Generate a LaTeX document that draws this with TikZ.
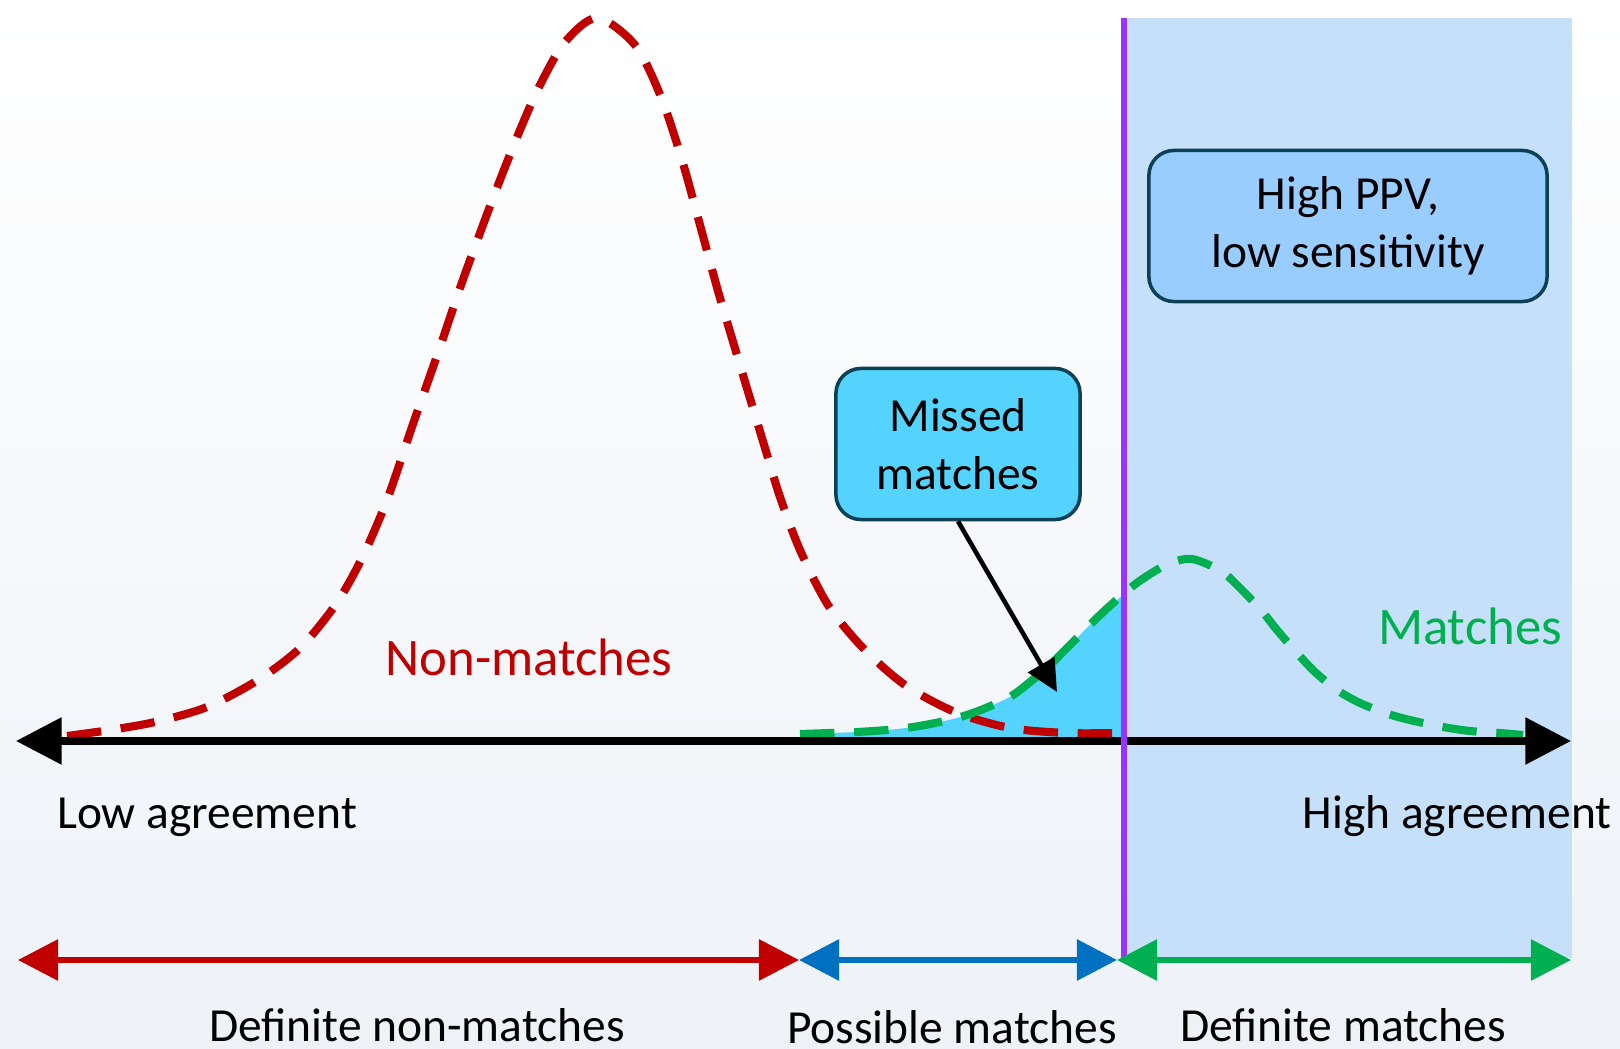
\documentclass[tikz,border=0pt]{standalone}
\usepackage{fontspec}
\setmainfont{Carlito}
\usepackage{tikz}
\usetikzlibrary{arrows.meta,positioning}

\definecolor{nonred}{RGB}{192,0,0}
\definecolor{matchgreen}{RGB}{0,176,80}
\definecolor{possblue}{RGB}{0,112,192}
\definecolor{cutpurple}{RGB}{153,51,255}
\definecolor{regionblue}{RGB}{199,224,249}
\definecolor{missfill}{RGB}{83,211,253}
\definecolor{ppvfill}{RGB}{153,204,255}
\definecolor{boxedge}{RGB}{12,64,84}
\definecolor{bgbot}{RGB}{238,242,247}

\begin{document}
\begin{tikzpicture}[x=0.01cm, y=-0.01cm,
    font=\fontsize{13.5}{16.5}\selectfont,
    dcurve/.style={line width=2.3pt, dash pattern=on 9.8pt off 5.6pt},
    infobox/.style={draw=boxedge, line width=1pt, rounded corners=0.25cm,
        align=center, minimum height=1.51cm, inner sep=0pt},
    txt/.style={anchor=base, inner sep=0pt},
    bigtxt/.style={txt, font=\fontsize{15}{18}\selectfont},
    zonearrow/.style={line width=1.7pt,
        {Triangle[length=11.4pt,width=11.4pt]}-{Triangle[length=11.4pt,width=11.4pt]}}]

\useasboundingbox (0,0) rectangle (1620,1049);

% Background and high-agreement zone
\shade[top color=white, bottom color=bgbot] (0,0) rectangle (1620,1049);
\fill[regionblue] (1124,18) rectangle (1572,958);

% Missed matches area under the matches curve
\fill[missfill] (830,741) -- plot[smooth] coordinates {(830,733) (857,732) (887,730)
    (913,727) (940,722) (967,715) (993,705) (1013,695) (1030,682) (1047,668)
    (1060,655) (1080,635) (1100,615) (1124,594)} -- (1124,741) -- cycle;

% Non-matches curve
\draw[dcurve, nonred] plot[smooth] coordinates {(67,736) (110,730) (155,722) (207,707)
    (258,680) (300,648) (336,604) (362,558) (387,500) (413,424) (439,350) (460,288)
    (480,233) (500,180) (520,130) (540,85) (565,42) (597,18) (635,45) (661,97)
    (682,160) (700,225) (718,291) (734,345) (749,395) (765,448) (780,497) (800,550)
    (828,605) (863,648) (905,685) (955,712) (1010,728) (1067,733) (1116,733)};

% Matches curve
\draw[dcurve, matchgreen] plot[smooth] coordinates {(800,734) (830,733) (857,732)
    (887,730) (913,727) (940,722) (967,715) (993,705) (1013,695) (1030,682)
    (1047,668) (1060,655) (1080,635) (1100,615) (1121,596) (1141,580) (1168,564)
    (1192,559) (1221,571) (1239,587) (1261,610) (1277,630) (1297,653) (1315,672)
    (1337,690) (1360,703) (1388,714) (1414,721) (1443,727) (1470,731) (1500,733)
    (1523,735)};

% Agreement axis
\coordinate (lowend) at (16,741);
\coordinate (highend) at (1571,741);
\draw[line width=2pt, {Triangle[length=13pt,width=13pt]}-{Triangle[length=13pt,width=13pt]}]
    (lowend) -- (highend);

% Cut-off
\coordinate (cuttop) at (1124,18);
\coordinate (cutbot) at (1124,958);
\draw[cutpurple, line width=1.7pt] (cuttop) -- (cutbot);

% Boxes
\node[infobox, fill=ppvfill, minimum width=3.98cm] (ppv) at (1348,226) {High PPV,\\low sensitivity};
\node[infobox, fill=missfill, minimum width=2.44cm] (missed) at (958,444) {Missed\\matches};

\coordinate (misstip) at (1057,692);
\draw[line width=1.3pt, -{Triangle[length=9pt,width=8.5pt]}] (missed.south) -- (misstip);

% Labels
\node[bigtxt, nonred] (nonlab) at (529,676) {Non-matches};
\node[bigtxt, matchgreen] (matchlab) at (1470,645) {Matches};
\node[txt] (lowlab) at (207,829) {Low agreement};
\node[txt] (highlab) at (1457,829) {High agreement};

% Ranges
\coordinate (rangeA) at (18,960);
\coordinate (rangeB) at (799,960);
\coordinate (rangeC) at (1117,960);
\coordinate (rangeD) at (1571,960);
\draw[zonearrow, nonred] (rangeA) -- (rangeB);
\draw[zonearrow, possblue] (rangeB) -- (rangeC);
\draw[zonearrow, matchgreen] (rangeC) -- (rangeD);

\node[txt] (deflow) at (417,1041) {Definite non-matches};
\node[txt] (possib) at (952,1044) {Possible matches};
\node[txt] (defhigh) at (1343,1041) {Definite matches};

\end{tikzpicture}
\end{document}
